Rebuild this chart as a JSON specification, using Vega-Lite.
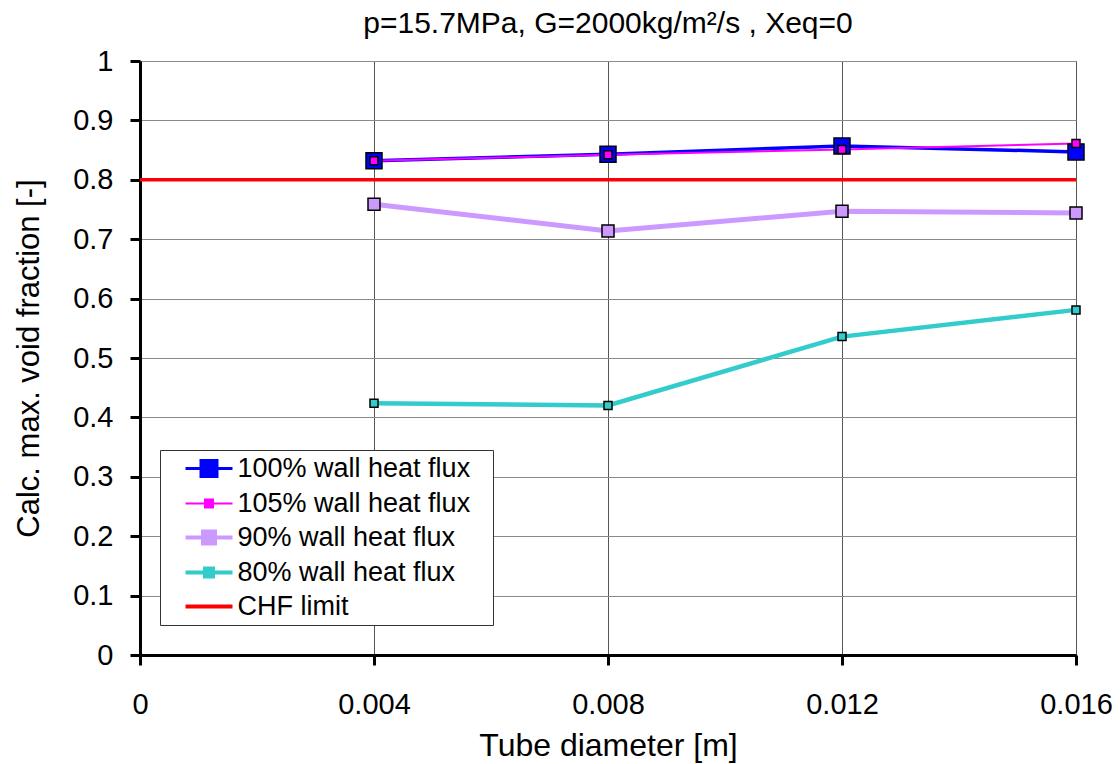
{
  "$schema": "https://vega.github.io/schema/vega-lite/v6.json",
  "width": 936,
  "height": 594,
  "autosize": {"type": "none"},
  "padding": {"left": 140, "top": 61, "right": 44, "bottom": 109},
  "background": "white",
  "config": {
    "font": "Liberation Sans",
    "view": {"stroke": "#555555", "strokeWidth": 1}
  },
  "title": {
    "text": "p=15.7MPa, G=2000kg/m²/s , Xeq=0",
    "font": "Liberation Sans",
    "fontSize": 30,
    "fontWeight": "normal",
    "color": "black",
    "anchor": "middle",
    "baseline": "middle",
    "offset": 7,
    "dy": 14
  },
  "data": {
    "values": [
      {"series": "100% wall heat flux", "d": 0.004, "v": 0.832},
      {"series": "100% wall heat flux", "d": 0.008, "v": 0.843},
      {"series": "100% wall heat flux", "d": 0.012, "v": 0.857},
      {"series": "100% wall heat flux", "d": 0.016, "v": 0.847},
      {"series": "105% wall heat flux", "d": 0.004, "v": 0.832},
      {"series": "105% wall heat flux", "d": 0.008, "v": 0.842},
      {"series": "105% wall heat flux", "d": 0.012, "v": 0.851},
      {"series": "105% wall heat flux", "d": 0.016, "v": 0.861},
      {"series": "90% wall heat flux", "d": 0.004, "v": 0.759},
      {"series": "90% wall heat flux", "d": 0.008, "v": 0.714},
      {"series": "90% wall heat flux", "d": 0.012, "v": 0.747},
      {"series": "90% wall heat flux", "d": 0.016, "v": 0.744},
      {"series": "80% wall heat flux", "d": 0.004, "v": 0.424},
      {"series": "80% wall heat flux", "d": 0.008, "v": 0.420},
      {"series": "80% wall heat flux", "d": 0.012, "v": 0.536},
      {"series": "80% wall heat flux", "d": 0.016, "v": 0.581},
      {"series": "CHF limit", "d": 0.0, "v": 0.8},
      {"series": "CHF limit", "d": 0.016, "v": 0.8}
    ]
  },
  "encoding": {
    "x": {
      "field": "d",
      "type": "quantitative",
      "scale": {"domain": [0, 0.016], "nice": false, "zero": false},
      "axis": {
        "title": "Tube diameter [m]",
        "values": [0, 0.004, 0.008, 0.012, 0.016],
        "format": "~g",
        "labelFont": "Liberation Sans",
        "labelFontSize": 29,
        "labelColor": "black",
        "labelPadding": 25,
        "labelFlush": false,
        "labelOverlap": false,
        "titleFont": "Liberation Sans",
        "titleFontSize": 32,
        "titleFontWeight": "normal",
        "titleColor": "black",
        "titleX": 468,
        "titleY": 90,
        "titleAlign": "center",
        "titleBaseline": "middle",
        "domainColor": "black",
        "domainWidth": 3,
        "tickColor": "black",
        "tickWidth": 3,
        "tickSize": 10,
        "grid": true,
        "gridColor": "#555555",
        "gridWidth": 1
      }
    },
    "y": {
      "field": "v",
      "type": "quantitative",
      "scale": {"domain": [0, 1], "nice": false},
      "axis": {
        "title": "Calc. max. void fraction [-]",
        "values": [0, 0.1, 0.2, 0.3, 0.4, 0.5, 0.6, 0.7, 0.8, 0.9, 1],
        "format": "~g",
        "labelFont": "Liberation Sans",
        "labelFontSize": 29,
        "labelColor": "black",
        "labelPadding": 17,
        "labelFlush": false,
        "labelOverlap": false,
        "titleFont": "Liberation Sans",
        "titleFontSize": 31,
        "titleFontWeight": "normal",
        "titleColor": "black",
        "titleAngle": -90,
        "titleX": -111,
        "titleY": 297,
        "titleAlign": "center",
        "titleBaseline": "middle",
        "domainColor": "black",
        "domainWidth": 3,
        "tickColor": "black",
        "tickWidth": 3,
        "tickSize": 10,
        "grid": true,
        "gridColor": "#8a8a8a",
        "gridWidth": 1
      }
    },
    "color": {
      "field": "series",
      "type": "nominal",
      "sort": null,
      "scale": {
        "domain": ["100% wall heat flux", "105% wall heat flux", "90% wall heat flux", "80% wall heat flux", "CHF limit"],
        "range": ["#0000FF", "#FF00FF", "#CC99FF", "#33CCCC", "#FF0000"]
      },
      "legend": {
        "title": "\u00a0",
        "titleOrient": "right",
        "titleFontSize": 8,
        "titlePadding": 18,
        "orient": "none",
        "legendX": 20,
        "legendY": 389,
        "direction": "vertical",
        "fillColor": "white",
        "strokeColor": "#333333",
        "padding": 5,
        "symbolSize": 400,
        "symbolType": "M-2.35,0H2.35",
        "symbolOffset": 30.5,
        "labelOffset": 15,
        "labelFont": "Liberation Sans",
        "labelFontSize": 27,
        "labelColor": "black",
        "labelLimit": 400,
        "rowPadding": 6,
        "encode": {
          "symbols": {
            "update": {
              "shape": {"signal": "datum.value === 'CHF limit' ? 'M-2.35,0H2.35' : datum.value === '100% wall heat flux' ? 'M-2.35,0H2.35M-0.8,-0.8H0.8V0.8H-0.8Z' : datum.value === '90% wall heat flux' ? 'M-2.35,0H2.35M-0.6,-0.6H0.6V0.6H-0.6Z' : 'M-2.35,0H2.35M-0.4,-0.4H0.4V0.4H-0.4Z'"},
              "strokeWidth": {"signal": "datum.value === '105% wall heat flux' ? 2 : datum.value === '100% wall heat flux' ? 3 : 4"},
              "stroke": {"signal": "scale('color', datum.value)"},
              "fill": {"signal": "scale('color', datum.value)"},
              "opacity": {"value": 1}
            }
          }
        }
      }
    }
  },
  "layer": [
    {
      "transform": [{"filter": "datum.series === '100% wall heat flux'"}],
      "mark": {"type": "line", "strokeWidth": 3.5},
      "encoding": {}
    },
    {
      "transform": [{"filter": "datum.series === '105% wall heat flux'"}],
      "mark": {"type": "line", "strokeWidth": 2},
      "encoding": {}
    },
    {
      "transform": [{"filter": "datum.series === '90% wall heat flux'"}],
      "mark": {"type": "line", "strokeWidth": 5},
      "encoding": {}
    },
    {
      "transform": [{"filter": "datum.series === '80% wall heat flux'"}],
      "mark": {"type": "line", "strokeWidth": 4.5},
      "encoding": {}
    },
    {
      "transform": [{"filter": "datum.series === 'CHF limit'"}],
      "mark": {"type": "line", "strokeWidth": 3.5},
      "encoding": {}
    },
    {
      "transform": [{"filter": "datum.series !== 'CHF limit'"}],
      "mark": {"type": "point", "shape": "square", "filled": true, "stroke": "black", "strokeWidth": 1.5, "opacity": 1},
      "encoding": {
        "color": {"value": null},
        "fill": {
          "field": "series",
          "type": "nominal",
          "scale": {
            "domain": ["100% wall heat flux", "105% wall heat flux", "90% wall heat flux", "80% wall heat flux"],
            "range": ["#0000FF", "#FF00FF", "#CC99FF", "#33CCCC"]
          },
          "legend": null
        },
        "size": {
          "field": "series",
          "type": "nominal",
          "scale": {
            "type": "ordinal",
            "domain": ["100% wall heat flux", "105% wall heat flux", "90% wall heat flux", "80% wall heat flux"],
            "range": [256, 64, 144, 64]
          },
          "legend": null
        },
        "order": {"field": "series", "sort": "ascending"}
      }
    }
  ]
}
